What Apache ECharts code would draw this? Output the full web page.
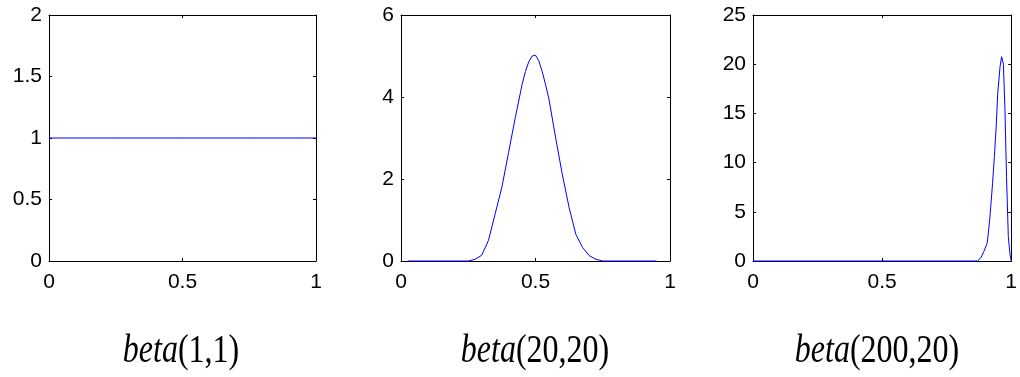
<!DOCTYPE html>
<html>
<head>
<meta charset="utf-8">
<script src="https://cdn.jsdelivr.net/npm/echarts@6/dist/echarts.min.js"></script>
<style>
  html, body { margin: 0; padding: 0; background: #fff; }
  #chart { width: 1020px; height: 377px; }
</style>
</head>
<body>
<div id="chart"></div>
<script>
// Density curves of three beta distributions
const beta11X = [0, 0.25, 0.5, 0.75, 1];
const beta11Y = [1, 1, 1, 1, 1];

const beta2020X = [0.025, 0.25, 0.275, 0.30, 0.325, 0.35, 0.375, 0.40, 0.425, 0.45, 0.4625, 0.475, 0.4875, 0.50,
                   0.5125, 0.525, 0.5375, 0.55, 0.575, 0.60, 0.625, 0.65, 0.675, 0.70, 0.725, 0.75, 0.95];
const beta2020Y = [0, 0, 0.04, 0.14, 0.5, 1.15, 1.8, 2.65, 3.5, 4.3, 4.62, 4.86, 5.0, 5.02,
                   4.88, 4.62, 4.3, 3.95, 3.0, 2.1, 1.3, 0.65, 0.33, 0.13, 0.04, 0, 0];

const beta20020X = [0, 0.6, 0.869, 0.882, 0.894, 0.907, 0.913, 0.919, 0.928, 0.935, 0.942, 0.948,
                    0.957, 0.963, 0.97, 0.976, 0.982, 0.989, 0.995, 1.0];
const beta20020Y = [0, 0, 0, 0.3, 0.95, 1.8, 3.15, 4.85, 7.9, 10.6, 13.65, 17.05,
                    19.75, 20.76, 20.0, 15.35, 8.57, 2.47, 0.78, 0];

const xTicks = { min: 0, max: 1, interval: 0.5 };
const yTicks = [
  { min: 0, max: 2, interval: 0.5 },
  { min: 0, max: 6, interval: 2 },
  { min: 0, max: 25, interval: 5 }
];
const titles = ['(1,1)', '(20,20)', '(200,20)'];

const panels = [
  { left: 49, width: 267, x: beta11X, y: beta11Y, titleX: 181 },
  { left: 401, width: 269, x: beta2020X, y: beta2020Y, titleX: 535 },
  { left: 753, width: 265, x: beta20020X, y: beta20020Y, titleX: 877 }
];

const labelFont = { fontFamily: 'Liberation Sans, Arial, sans-serif', fontSize: 21, color: '#000' };
const lineStyle = { color: '#000', width: 1 };

const grid = [], xAxis = [], yAxis = [], series = [], graphic = [];

panels.forEach((p, i) => {
  grid.push({ left: p.left, top: 15, width: p.width, height: 246, containLabel: false });
  const yt = yTicks[i];
  // bottom and top x axes
  xAxis.push({
    type: 'value', gridIndex: i, position: 'bottom', min: xTicks.min, max: xTicks.max, interval: xTicks.interval,
    axisLine: { show: true, onZero: false, lineStyle },
    axisTick: { show: true, inside: true, length: 3, lineStyle },
    axisLabel: Object.assign({ margin: 11, formatter: v => String(v) }, labelFont),
    splitLine: { show: false }
  });
  xAxis.push({
    type: 'value', gridIndex: i, position: 'top', min: xTicks.min, max: xTicks.max, interval: xTicks.interval,
    axisLine: { show: true, onZero: false, lineStyle },
    axisTick: { show: true, inside: true, length: 3, lineStyle },
    axisLabel: { show: false }, splitLine: { show: false }
  });
  // left and right y axes
  yAxis.push({
    type: 'value', gridIndex: i, position: 'left', min: yt.min, max: yt.max, interval: yt.interval,
    axisLine: { show: true, onZero: false, lineStyle },
    axisTick: { show: true, inside: true, length: 3, lineStyle },
    axisLabel: Object.assign({ margin: 7, formatter: v => String(v) }, labelFont),
    splitLine: { show: false }
  });
  yAxis.push({
    type: 'value', gridIndex: i, position: 'right', min: yt.min, max: yt.max, interval: yt.interval,
    axisLine: { show: true, onZero: false, lineStyle },
    axisTick: { show: true, inside: true, length: 3, lineStyle },
    axisLabel: { show: false }, splitLine: { show: false }
  });
  series.push({
    type: 'line', xAxisIndex: 2 * i, yAxisIndex: 2 * i,
    data: p.x.map((v, k) => [v, p.y[k]]),
    showSymbol: false, smooth: false,
    lineStyle: { color: '#0000ff', width: 1 },
    clip: false, z: 3
  });
  graphic.push({
    type: 'text', x: p.titleX, y: 351, scaleY: 1.25,
    style: {
      text: '{i|beta}{r|' + titles[i] + '}',
      x: 0, y: 0, align: 'center', verticalAlign: 'middle',
      rich: {
        i: { fontFamily: 'Liberation Serif, Times New Roman, serif', fontStyle: 'italic', fontSize: 32, fill: '#000' },
        r: { fontFamily: 'Liberation Serif, Times New Roman, serif', fontSize: 32, fill: '#000' }
      }
    }
  });
});

const chart = echarts.init(document.getElementById('chart'), null, { renderer: 'canvas' });
chart.setOption({
  animation: false,
  backgroundColor: '#fff',
  grid, xAxis, yAxis, series, graphic
});
</script>
</body>
</html>
